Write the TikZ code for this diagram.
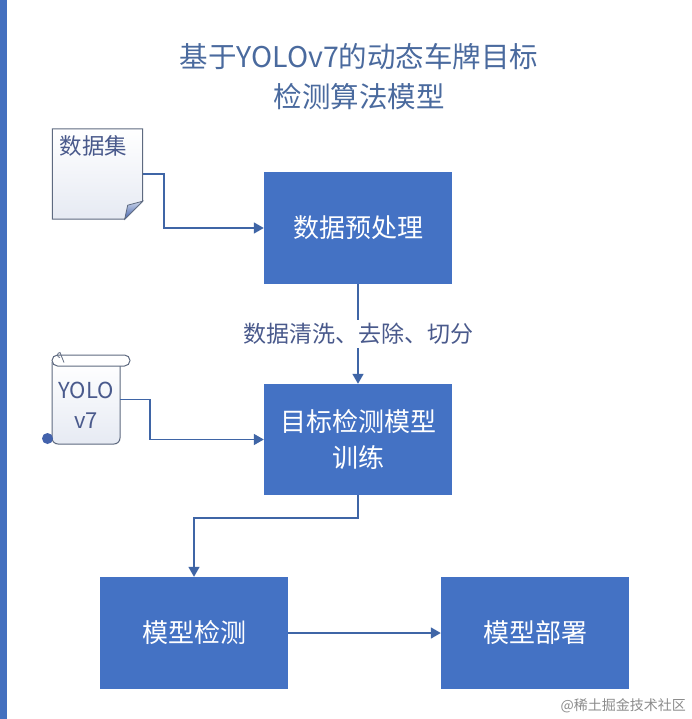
\documentclass[tikz,border=0pt]{standalone}
\usepackage{fontspec}
\setmainfont{Noto Sans CJK SC}
\usetikzlibrary{arrows.meta,calc}
\definecolor{boxblue}{HTML}{4472C4}
\definecolor{barblue}{HTML}{4470BF}
\definecolor{linecol}{HTML}{3F65A6}
\definecolor{titlecol}{HTML}{4A6A9E}
\definecolor{doctext}{HTML}{4A5A8C}
\definecolor{docedge}{HTML}{5E6A80}
\definecolor{docfill}{HTML}{E6EAF3}
\definecolor{foldlight}{HTML}{CBD5EA}
\definecolor{folddark}{HTML}{4362AC}
\definecolor{wmark}{HTML}{8C8C8C}
\begin{document}
\begin{tikzpicture}[x=1pt,y=-1pt,
  procbox/.style={draw=none,fill=boxblue,text=white,minimum width=188pt,minimum height=112pt,inner sep=0pt,align=center,font=\fontsize{26pt}{36pt}\selectfont},
  conn/.style={draw=linecol,line width=1.6pt,-{Triangle[length=10pt,width=11pt]}},
  lbl/.style={fill=white,text=doctext,inner sep=3pt,font=\fontsize{23pt}{26pt}\selectfont},
  holder/.style={draw=none,inner sep=0pt}]
\useasboundingbox (0,0) rectangle (691,719);
\fill[white] (0,0) rectangle (691,719);
\fill[barblue] (0,0) rectangle (7,719);
% title
\node[text=titlecol,align=center,font=\fontsize{28.5pt}{40pt}\selectfont] (title) at (359,77) {基于YOLOv7的动态车牌目标\\检测算法模型};
% process boxes
\node[procbox] (b1) at (358,228) {数据预处理};
\node[procbox,minimum height=111pt] (b2) at (358,439.5) {目标检测模型\\训练};
\node[procbox] (b3) at (194,633) {模型检测};
\node[procbox] (b4) at (535,633) {模型部署};
% document shape
\node[holder,minimum width=90pt,minimum height=90pt] (doc) at (97.5,174) {};
\shade[top color=white,bottom color=docfill,draw=docedge,line width=1pt]
  (doc.north west) -- (doc.north east) -- ($(doc.south east)+(0,-18)$) -- ($(doc.south east)+(-18,0)$) -- (doc.south west) -- cycle;
\shade[top color=foldlight,bottom color=folddark,draw=docedge,line width=0.8pt]
  ($(doc.south east)+(0,-18)$) -- ($(doc.south east)+(-18,0)$) -- ($(doc.south east)+(-15,-14)$) -- cycle;
\node[text=doctext,anchor=north west,inner sep=0pt,font=\fontsize{22.5pt}{26pt}\selectfont] (doclbl) at ($(doc.north west)+(7,7)$) {数据集};
% scroll shape
\node[holder,minimum width=68pt,minimum height=89pt] (scroll) at (86,399.5) {};
\shade[top color=white,bottom color=docfill,draw=docedge,line width=1pt,rounded corners=6pt]
  (52,362) -- (52,444) -- (120,444) -- (120,362);
\draw[docedge,line width=1pt,fill=white,rounded corners=5.5pt] (52,355) rectangle (130,366);
\draw[docedge,line width=0.8pt] (60,357.5) arc[start angle=90,end angle=270,radius=2.5] -- (64,362.5);
\fill[folddark] (47.5,438.5) circle[radius=5.5];
\node[text=doctext,align=center,inner sep=0pt,font=\fontsize{22pt}{30pt}\selectfont] (scrlbl) at (86,405) {YOLO\\v7};
% connectors
\draw[conn] (doc.east) -- ++(21,0) |- (b1.west);
\draw[conn] (scroll.east) -- ++(30,0) |- (b2.west);
\draw[conn] (b1.south) -- node[lbl] (cleanlbl) {数据清洗、去除、切分} (b2.north);
\draw[conn] (b2.south) -- ++(0,22.5) -| (b3.north);
\draw[conn] (b3.east) -- (b4.west);
% watermark
\node[text=wmark,font=\fontsize{14pt}{16pt}\selectfont,anchor=east,inner sep=0pt] (wm) at (686,706) {@稀土掘金技术社区};
\end{tikzpicture}
\end{document}
